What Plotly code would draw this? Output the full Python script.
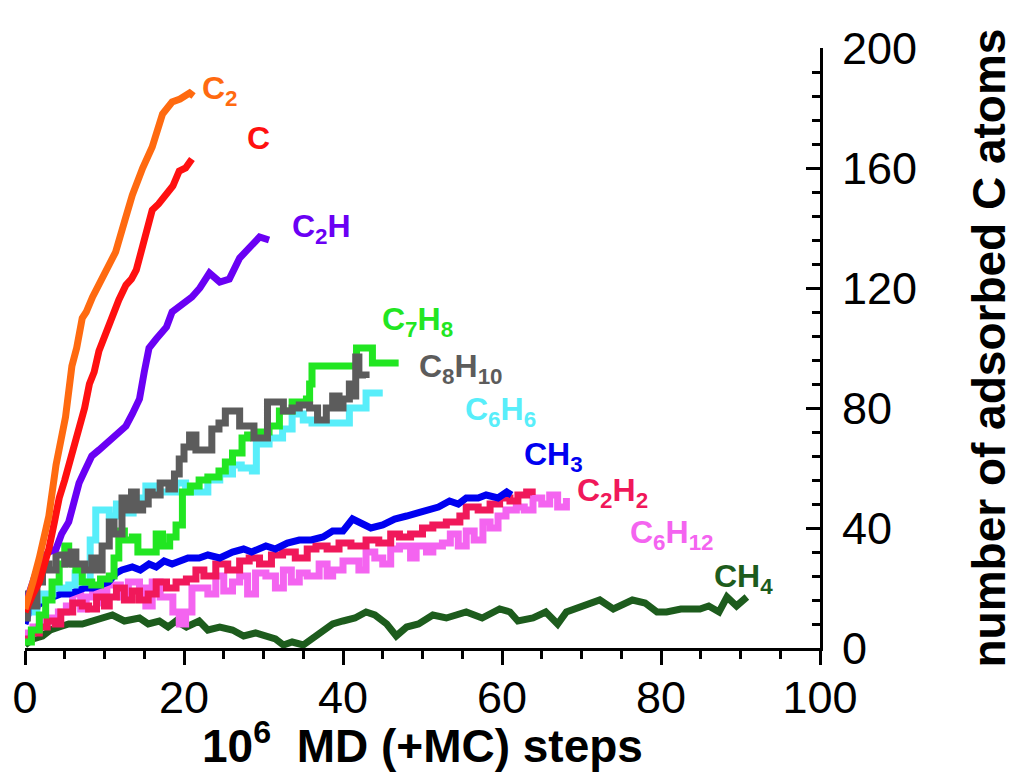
import plotly.graph_objects as go

# ---------------- data ----------------
c2_x = [0, 0.5, 1, 1.8, 2.5, 3, 3.9, 4.5, 5.1, 5.9, 6.5, 7.2, 7.7, 8.5, 9.3, 10.2, 11.4, 12.5, 13.5, 14.8, 16, 17.3, 18.5, 19.5, 20.7, 21.2]
c2_y = [13, 17, 22, 30, 37, 44, 61, 68, 77, 94, 100, 110, 112, 117, 121, 126, 132, 142, 151, 160, 167, 178, 182, 183, 185, 184]

c_x = [0, 0.3, 1, 1.8, 2.5, 3, 3.7, 4.3, 5, 5.5, 6.2, 6.8, 7.5, 8.1, 8.7, 9.3, 10, 10.6, 11.2, 11.8, 12.7, 13.4, 14, 14.6, 15.2, 16, 16.8, 17.8, 18.6, 19.4, 20.2, 21]
c_y = [12, 14, 18, 22, 28, 33, 42, 50, 56, 61, 66, 72, 80, 88, 92, 99, 104, 108, 112, 116, 121, 123, 126, 132, 137, 146, 148, 151, 154, 159, 160, 163]

c2h_x = [0, 0.5, 0.9, 1.5, 2.2, 3, 3.9, 4.6, 5.5, 6.0, 6.8, 7.5, 8.4, 9.3, 10.6, 11.6, 12.7, 13.5, 14.4, 15, 15.6, 16.5, 17.8, 18.5, 19.5, 21, 22, 23.2, 24.5, 25.7, 27, 28, 29.5, 30.7]
c2h_y = [14, 18, 22, 26, 30, 32, 33, 38, 42, 48, 55, 59, 64, 66, 69, 71, 74, 78, 83, 92, 100, 103, 107, 112, 114, 117, 120, 125, 122, 123, 130, 133, 137, 136]

c8h10_x = [0, 0.3, 0.8, 1.5, 2.2, 3, 3.9, 5, 5.8, 6.4, 7.5, 8.4, 9.2, 9.7, 10.6, 11.2, 12.2, 12.8, 13.4, 14, 14.8, 15.5, 16, 17, 18.1, 18.8, 19.4, 20, 20.7, 21.5, 22.8, 23.5, 24.4, 25.2, 26.1, 27, 27.8, 28.8, 29.8, 30.5, 31.1, 32.5, 33.6, 34.5, 35.8, 36.8, 37.9, 38.7, 39.5, 40, 40.8, 41.3, 41.6, 42, 42.9]
c8h10_y = [10, 18, 14, 22, 28, 26, 31, 28, 32, 28, 26, 30, 26, 34, 42, 38, 50, 46, 52, 46, 48, 52, 51, 55, 53, 58, 63, 67, 71, 66, 66, 73, 75, 79, 79, 74, 74, 70, 70, 82, 82, 79, 80, 81, 80, 76, 80, 84, 80, 83, 88, 84, 97, 91, 90]

c7h8_x = [0, 0.8, 1.8, 2.6, 3.4, 4.3, 5.0, 5.5, 6.0, 6.4, 7.2, 8.4, 9.5, 10.6, 11.2, 11.8, 12.5, 13.5, 14.2, 15.6, 16.5, 17.3, 18.2, 19, 19.8, 20.8, 21.9, 23, 24.4, 25.2, 26.1, 27.3, 28, 29.1, 30.7, 32, 33.6, 35.4, 35.8, 36.1, 38.7, 41.5, 41.7, 43.7, 47]
c7h8_y = [2, 6, 11, 16, 22, 28, 34, 30, 28, 26, 22, 21, 23, 24, 30, 39, 36, 37, 32, 32, 38, 34, 37, 41, 52, 54, 56, 57, 59, 62, 65, 70, 71, 72, 74, 79, 82, 83, 88, 94, 94, 94, 100, 95, 95]

c6h6_x = [0.8, 1.5, 2.2, 3.5, 5.5, 6.3, 7.2, 8.2, 8.9, 9.8, 10.6, 11.5, 12.5, 13.6, 14.5, 15.2, 16.2, 17.8, 19, 20.2, 21.9, 23, 24.5, 26.1, 27.2, 28.6, 29.1, 30.7, 32.4, 33.6, 35, 36.1, 38, 40.4, 40.8, 42.9, 45]
c6h6_y = [12, 16, 18, 20, 21, 25, 22, 36, 46, 46, 44, 48, 45, 50, 50, 54, 52, 52, 55, 52, 52, 56, 58, 61, 60, 59, 68, 70, 73, 78, 76, 75, 75, 75, 80, 85, 85]

ch3_x = [0, 0.5, 1.5, 2.5, 3.5, 4.5, 5.5, 6.5, 7.5, 8.5, 9.3, 10.5, 11.5, 12.2, 13.5, 14.5, 15.6, 16.5, 17.5, 18.5, 19.5, 20.5, 21.9, 23, 24.5, 26.1, 27.5, 28.5, 30.3, 31.5, 33, 34.5, 36, 37.5, 38.7, 40, 41.2, 42.5, 43.5, 45, 46.5, 48, 49.2, 50.5, 52, 53.4, 54.5, 55.5, 57, 58, 59.5, 60.6, 61.2]
ch3_y = [8, 12, 14, 16, 17, 18, 18, 19, 20, 20, 21, 22, 25, 26, 27, 26, 28, 27, 29, 28, 29, 30, 30, 31, 30, 32, 33, 32, 34, 33, 35, 36, 36, 37, 39, 39, 43, 41, 40, 41, 43, 44, 45, 46, 47, 49, 48, 50, 50, 51, 50, 52, 51]

c2h2_x = [0, 0.8, 1.8, 2.8, 3.8, 4.5, 5.2, 6, 7.2, 8, 9, 10, 10.6, 11.5, 12.5, 13.5, 14.4, 15.5, 16.5, 17.8, 19, 20.3, 21.5, 22.5, 24, 25.5, 27, 28.2, 29.5, 31, 32.4, 34, 35.5, 36.6, 38, 39.5, 41, 42.9, 44.5, 46, 47.1, 48.5, 50, 51.3, 53, 54.7, 55.5, 57, 58.5, 59.7, 61, 62, 63.1, 63.8]
c2h2_y = [3, 5, 7, 9, 8, 12, 12, 15, 14, 13, 17, 14, 17, 20, 16, 19, 16, 18, 22, 20, 22, 23, 26, 24, 28, 26, 29, 30, 28, 31, 32, 30, 33, 34, 33, 35, 34, 36, 35, 38, 37, 38, 40, 41, 42, 44, 47, 46, 48, 50, 49, 51, 52, 51]

c6h12_x = [0, 1, 2, 3, 4.2, 5.2, 6, 7, 7.7, 8.5, 9.5, 10.3, 11, 12, 13, 14.4, 15.2, 16, 17, 17.8, 18.6, 19.4, 20.2, 21, 21.9, 23, 24, 25, 26.1, 27, 28, 29, 30.3, 31.5, 32.5, 33.5, 34.5, 35.5, 37, 38, 38.7, 40, 40.8, 42, 42.9, 44, 45, 46, 47.1, 48.5, 49.2, 50.5, 51.3, 52.5, 53.5, 54.5, 55.5, 56.5, 57.6, 58.5, 59.5, 60.5, 61.8, 62.8, 63.9, 65, 66, 67, 68.1]
c6h12_y = [5, 7, 9, 10, 12, 14, 18, 13, 17, 19, 15, 21, 21, 17, 22, 20, 14, 22, 17, 17, 12, 8, 12, 20, 20, 18, 24, 19, 22, 24, 18, 25, 24, 20, 26, 22, 25, 24, 28, 24, 26, 29, 29, 26, 32, 30, 28, 33, 34, 30, 34, 32, 34, 35, 38, 34, 39, 36, 42, 40, 44, 46, 47, 46, 50, 48, 51, 47, 50]

ch4_x = [0, 1, 2.2, 3.2, 4.3, 5.5, 7.2, 8.5, 10, 11, 12.5, 14.4, 15.5, 16.9, 18, 19, 20.3, 21.9, 23, 24.5, 26.1, 27.5, 29, 30.3, 31.5, 32.5, 33.6, 35, 36.6, 37.8, 38.7, 40, 41.5, 42.9, 44, 45.5, 46.7, 48, 49.5, 51.3, 53, 55.5, 57.5, 59.7, 61, 62, 63.9, 65.5, 67, 68.1, 70, 72.3, 74, 76.4, 78, 79.5, 80.7, 82.5, 84.9, 86, 87.3, 88.3, 89.5, 90.8]
ch4_y = [1, 3, 4, 6, 7, 8, 8, 9, 10, 11, 9, 10, 8, 9, 7, 9, 7, 9, 6, 7, 6, 4, 5, 4, 3, 1, 2, 1, 4, 6, 8, 9, 10, 12, 11, 8, 4, 7, 8, 11, 10, 12, 10, 13, 12, 9, 10, 12, 8, 12, 14, 16, 13, 16, 15, 12, 12, 13, 13, 14, 12, 17, 14, 17]

x_ticks = [0, 20, 40, 60, 80, 100]
y_ticks = [0, 40, 80, 120, 160, 200]

# label texts with their anchor positions (data coordinates)
label_text = ["C<sub>2</sub>", "C", "C<sub>2</sub>H", "C<sub>7</sub>H<sub>8</sub>", "C<sub>8</sub>H<sub>10</sub>",
              "C<sub>6</sub>H<sub>6</sub>", "CH<sub>3</sub>", "C<sub>2</sub>H<sub>2</sub>",
              "C<sub>6</sub>H<sub>12</sub>", "CH<sub>4</sub>"]
label_x = [22.0, 27.7, 33.3, 44.7, 49.3, 55.1, 62.5, 69.2, 75.8, 86.4]
label_y = [185.7, 170, 140, 109, 93.3, 78.7, 63.7, 51.7, 37.7, 23.3]

# ---------------- styles ----------------
series = [
    # name, x, y, color, shape  (drawn in this order)
    ("CH4", ch4_x, ch4_y, "#1d5c1d", "linear"),
    ("C6H12", c6h12_x, c6h12_y, "#f464f0", "hv"),
    ("C2H2", c2h2_x, c2h2_y, "#f0185a", "hv"),
    ("CH3", ch3_x, ch3_y, "#0000f0", "linear"),
    ("C6H6", c6h6_x, c6h6_y, "#58eefa", "hv"),
    ("C7H8", c7h8_x, c7h8_y, "#22e622", "hv"),
    ("C8H10", c8h10_x, c8h10_y, "#5c5c5c", "hv"),
    ("C2H", c2h_x, c2h_y, "#6a00f4", "linear"),
    ("C", c_x, c_y, "#ff1010", "linear"),
    ("C2", c2_x, c2_y, "#ff6a10", "linear"),
]
label_colors = ["#ff6a10", "#ff1010", "#6a00f4", "#22e622", "#5c5c5c", "#58eefa",
                "#0000f0", "#f0185a", "#f464f0", "#1d5c1d"]

FONT = "Liberation Sans, Arial, sans-serif"

fig = go.Figure()
for name, xs, ys, col, shape in series:
    fig.add_trace(go.Scatter(x=xs, y=ys, mode="lines", name=name,
                             line=dict(color=col, width=7, shape=shape),
                             showlegend=False))

for t, lx, ly, col in zip(label_text, label_x, label_y, label_colors):
    fig.add_annotation(x=lx, y=ly, xref="x", yref="y", text="<b>" + t + "</b>",
                       showarrow=False, xanchor="left", yanchor="middle",
                       font=dict(family=FONT, size=32, color=col))

# axis titles as annotations
fig.add_annotation(x=0.5, y=-0.158, xref="paper", yref="paper",
                   text="<b>10<sup>6</sup>  MD (+MC) steps</b>", showarrow=False,
                   xanchor="center", yanchor="middle",
                   font=dict(family=FONT, size=46, color="black"))
fig.add_annotation(x=1.212, y=0.5, xref="paper", yref="paper",
                   text="<b>number of adsorbed C atoms</b>", showarrow=False,
                   textangle=-90, xanchor="center", yanchor="middle",
                   font=dict(family=FONT, size=46, color="black"))

axis_font = dict(family=FONT, size=45, color="black")
# the page body has an 8px margin, so the figure is offset by 8px; margins compensate
fig.update_layout(
    width=1008, height=770,
    margin=dict(l=17, r=196, t=40, b=130, autoexpand=False),
    paper_bgcolor="white", plot_bgcolor="white",
    xaxis=dict(range=[0, 100], tickvals=x_ticks, ticks="outside", ticklen=14, tickwidth=3,
               tickcolor="black", showline=True, linewidth=3, linecolor="black",
               showgrid=False, zeroline=False, tickfont=axis_font, automargin=False,
               ticklabelstandoff=-6,
               minor=dict(dtick=5, tick0=0, ticks="outside", ticklen=8, tickwidth=3,
                          tickcolor="black", showgrid=False)),
    yaxis=dict(range=[0, 200], tickvals=y_ticks, side="right", ticks="inside", ticklen=14,
               tickwidth=3, tickcolor="black", showline=True, linewidth=3, linecolor="black",
               showgrid=False, zeroline=False, tickfont=axis_font, ticklabelstandoff=10,
               automargin=False,
               minor=dict(dtick=8, tick0=0, ticks="inside", ticklen=8, tickwidth=3,
                          tickcolor="black", showgrid=False)),
)

fig.write_html("out.html")
